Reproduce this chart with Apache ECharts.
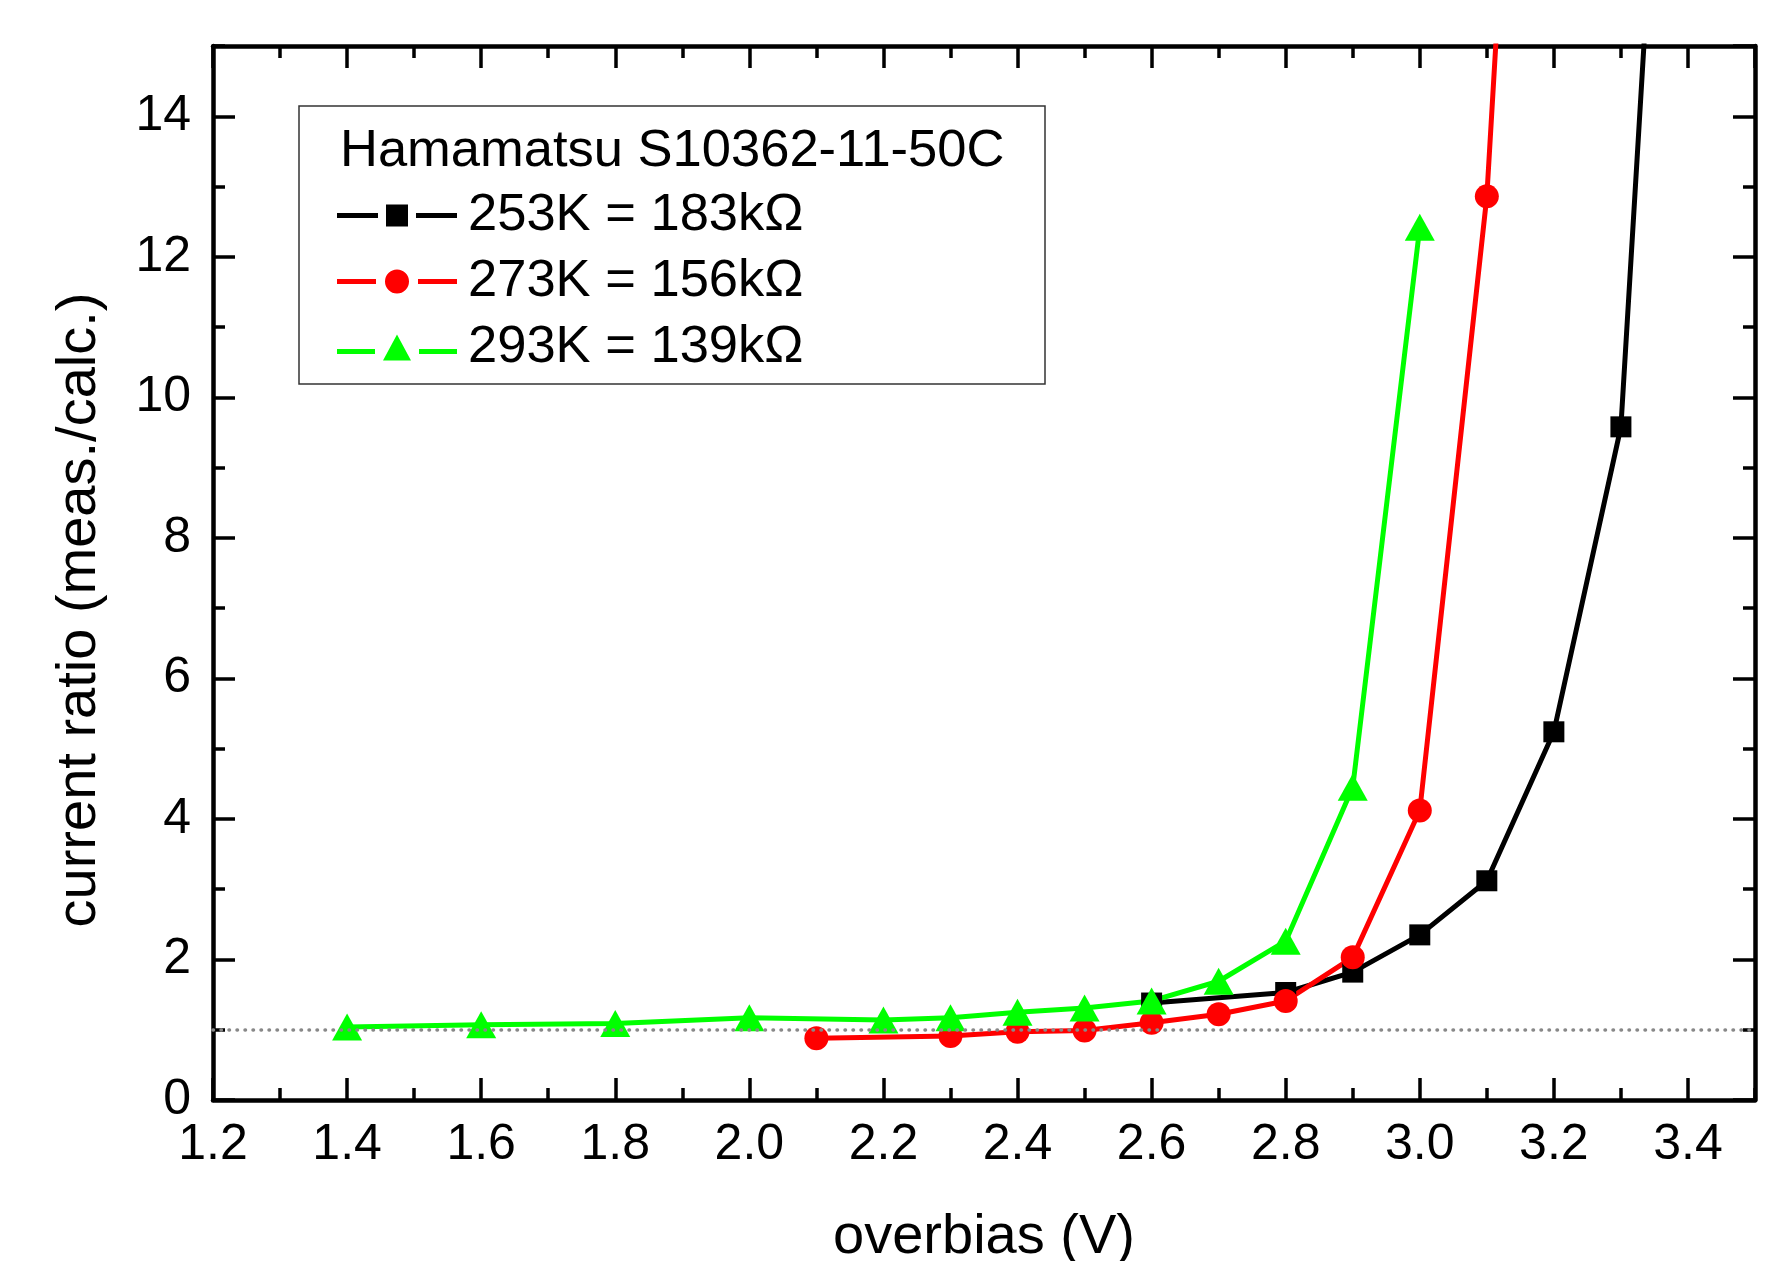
<!DOCTYPE html>
<html>
<head>
<meta charset="utf-8">
<script src="https://cdn.jsdelivr.net/npm/echarts@6/dist/echarts.min.js"></script>
<style>
  html, body { margin: 0; padding: 0; background: #fff; }
  #lineMain { width: 1787px; height: 1261px; }
</style>
</head>
<body>
<div id="lineMain"></div>
<script>
// data
var seriesNames = ['253K = 183k\u03a9', '273K = 156k\u03a9', '293K = 139k\u03a9'];
var blackX = [2.6, 2.8, 2.9, 3.0, 3.1, 3.2, 3.3, 3.4];
var blackY = [1.38, 1.53, 1.82, 2.35, 3.12, 5.24, 9.58, 25.4];
var redX = [2.1, 2.3, 2.4, 2.5, 2.6, 2.7, 2.8, 2.9, 3.0, 3.1, 3.2];
var redY = [0.88, 0.91, 0.97, 0.99, 1.10, 1.22, 1.41, 2.03, 4.12, 12.86, 29];
var greenX = [1.4, 1.6, 1.8, 2.0, 2.2, 2.3, 2.4, 2.5, 2.6, 2.7, 2.8, 2.9, 3.0];
var greenY = [1.04, 1.07, 1.09, 1.17, 1.14, 1.17, 1.25, 1.31, 1.41, 1.69, 2.26, 4.45, 12.42];
var refLevel = 1;
var legendTitle = 'Hamamatsu S10362-11-50C';
var xName = 'overbias (V)';
var yName = 'current ratio (meas./calc.)';

(function () {
    'use strict';
    var font = 'Liberation Sans';
    var myChart = echarts.init(document.getElementById('lineMain'));

    function pairs(xs, ys) {
        return xs.map(function (x, i) { return [x, ys[i]]; });
    }

    // legend icons: line - marker - line, with gaps like the original
    var icons = [
        'path://M0,8.5h41v5H0z M49,0h22v22H49z M79,8.5h41v5H79z',
        'path://M0,9.5h39v5H0z M48,12a12,12 0 1,0 24,0a12,12 0 1,0 -24,0z M81,9.5h39v5H81z',
        'path://M0,14.5h38v5H0z M46,26L60,0L74,26z M82,14.5h38v5H82z'
    ];

    // one axis for long ticks + labels, another for the short ones
    function xAx(pos, interval, len, labels) {
        return {
            type: 'value', position: pos, min: 1.2, max: 3.5, interval: interval,
            axisLine: { show: interval === 0.2, onZero: false, lineStyle: { color: '#000', width: 4.5 } },
            axisTick: { show: true, inside: true, length: len, lineStyle: { color: '#000', width: 3.5 } },
            axisLabel: {
                show: labels, margin: 20, color: '#000', fontFamily: font, fontSize: 50,
                showMaxLabel: false,
                formatter: function (v) { return v.toFixed(1); }
            },
            splitLine: { show: false }
        };
    }
    function yAx(pos, interval, len, labels) {
        return {
            type: 'value', position: pos, min: 0, max: 15, interval: interval,
            axisLine: { show: interval === 2, onZero: false, lineStyle: { color: '#000', width: 4.5 } },
            axisTick: { show: true, inside: true, length: len, lineStyle: { color: '#000', width: 3.5 } },
            axisLabel: {
                show: labels, margin: 22, color: '#000', fontFamily: font, fontSize: 50,
                showMaxLabel: false
            },
            splitLine: { show: false }
        };
    }

    var option = {
        animation: false,
        grid: { left: 213, right: 32, top: 46, bottom: 161, outerBoundsMode: 'none' },
        xAxis: [xAx('bottom', 0.2, 22, true), xAx('bottom', 0.1, 12, false),
                xAx('top', 0.2, 22, false), xAx('top', 0.1, 12, false)],
        yAxis: [yAx('left', 2, 22, true), yAx('left', 1, 12, false),
                yAx('right', 2, 22, false), yAx('right', 1, 12, false)],
        legend: {
            orient: 'vertical', left: 337, top: 189, padding: 0,
            itemWidth: 120, itemHeight: 28, itemGap: 13,
            textStyle: { color: '#000', fontFamily: font, fontSize: 52.5, lineHeight: 50, padding: [0, 0, 0, 6] },
            data: seriesNames.map(function (n, i) { return { name: n, icon: icons[i] }; })
        },
        graphic: [
            {
                type: 'rect', shape: { x: 299, y: 106, width: 746, height: 278 },
                style: { fill: 'none', stroke: '#333', lineWidth: 1.5 }, z: 10
            },
            {
                type: 'text', x: 340, y: 152,
                style: { text: legendTitle, fill: '#000', font: '52.5px "Liberation Sans"', verticalAlign: 'middle' }
            },
            {
                type: 'text', x: 984, y: 1238,
                style: { text: xName, fill: '#000', font: '56px "Liberation Sans"', align: 'center', verticalAlign: 'middle' }
            },
            {
                type: 'text', x: 80, y: 610, rotation: Math.PI / 2,
                style: { text: yName, fill: '#000', font: '56px "Liberation Sans"', align: 'center', verticalAlign: 'middle' }
            }
        ],
        series: [
            {
                name: seriesNames[0], type: 'line', data: pairs(blackX, blackY),
                symbol: 'rect', symbolSize: 21, color: '#000',
                lineStyle: { width: 5, color: '#000' },
                markLine: {
                    silent: true, symbol: 'none', label: { show: false },
                    lineStyle: { color: '#888', width: 3.5, type: [0.5, 7.5], cap: 'round' },
                    data: [{ yAxis: refLevel }]
                }
            },
            {
                name: seriesNames[1], type: 'line', data: pairs(redX, redY),
                symbol: 'circle', symbolSize: 24, color: '#ff0000',
                lineStyle: { width: 5, color: '#ff0000' }
            },
            {
                name: seriesNames[2], type: 'line', data: pairs(greenX, greenY),
                symbol: 'triangle', symbolSize: [30, 27], color: '#00ff00',
                lineStyle: { width: 5, color: '#00ff00' }
            }
        ]
    };
    myChart.setOption(option, true);
}());
</script>
</body>
</html>
